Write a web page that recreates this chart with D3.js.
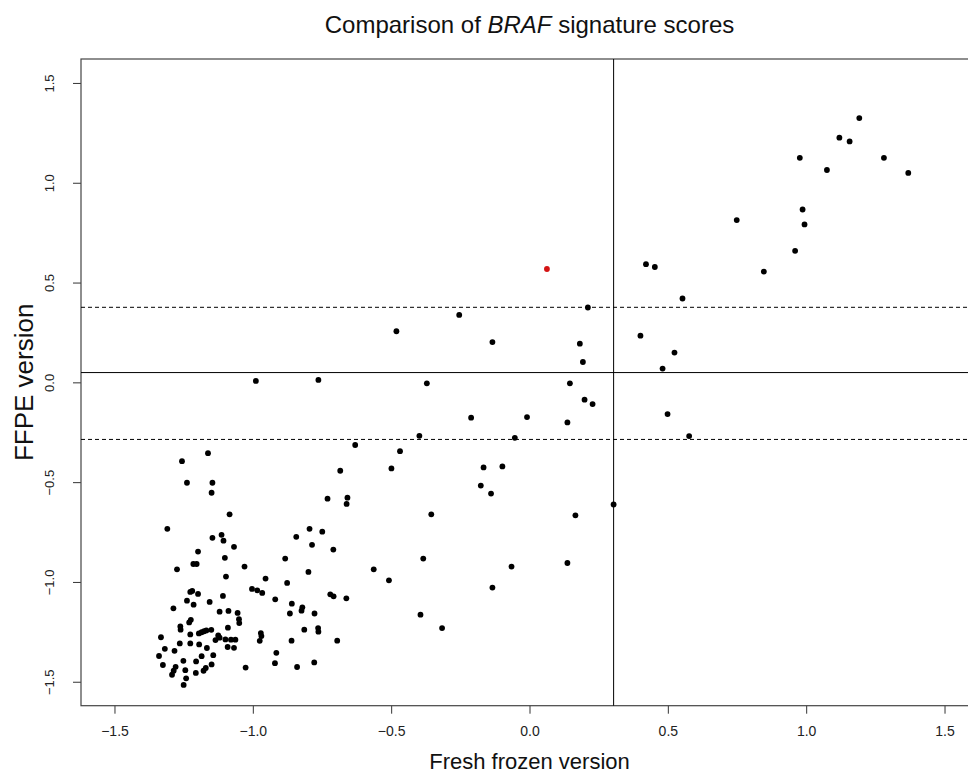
<!DOCTYPE html>
<html>
<head>
<meta charset="utf-8">
<script src="https://cdn.jsdelivr.net/npm/d3@7/dist/d3.min.js"></script>
<style>
  html, body { margin: 0; padding: 0; background: #fff; }
  svg { display: block; font-family: "Liberation Sans", Arial, sans-serif; }
</style>
</head>
<body>
<svg id="chart" width="968" height="776"></svg>
<script>
// ---- Data ----
const freshFrozen = [
  0.421, 0.453, 0.211, -0.254, -0.481, -0.134, 0.182, 0.193, 0.401, 0.553,
  0.524, 0.481, 0.749, 0.847, 0.960, 0.987, 0.994, 0.977, 1.075, 1.120,
  1.157, 1.192, 1.281, 1.369, 0.499, 0.577,
  -0.371, 0.146, 0.199, 0.228, 0.137, -0.211, -0.009, -0.398, -0.053, -0.630,
  -0.468, -0.499, -0.166, -0.098, -0.176, -0.139, 0.304, -0.355, 0.166, -0.384,
  -0.563, -0.508, -0.065, 0.137, -0.134, -0.394, -0.316,
  -0.989, -0.763, -1.162, -1.256, -1.238, -1.146, -1.149, -0.684, -0.730, -0.658,
  -0.661, -1.084, -1.309, -1.146, -1.113, -1.106, -1.068, -1.198, -1.101, -1.215,
  -1.203, -1.030, -1.274, -1.097, -0.795, -0.749, -0.843, -0.786, -0.709, -0.883,
  -0.799, -0.954, -0.876, -1.003, -0.984, -0.966, -0.919, -0.720, -0.708, -0.662,
  -0.859, -0.866, -0.821, -0.824, -0.777, -0.814, -0.764, -0.763, -0.860, -0.695,
  -0.915, -0.920, -0.840, -0.778, -0.971, -0.969, -0.975, -1.026,
  -1.287, -1.238, -1.214, -1.226, -1.219, -1.198, -1.156, -1.108, -1.120, -1.088,
  -1.055, -1.050, -1.049, -1.230, -1.224, -1.262, -1.261, -1.332, -1.318, -1.339,
  -1.325, -1.283, -1.264, -1.226, -1.226, -1.195, -1.185, -1.176, -1.168, -1.150,
  -1.194, -1.166, -1.125, -1.120, -1.135, -1.090, -1.099, -1.079, -1.063, -1.091,
  -1.068, -1.143, -1.185, -1.205, -1.251, -1.279, -1.286, -1.292, -1.244, -1.241,
  -1.250, -1.206, -1.178, -1.170, -1.149
];
const ffpe = [
  0.592, 0.578, 0.375, 0.338, 0.256, 0.202, 0.194, 0.102, 0.234, 0.420,
  0.149, 0.069, 0.813, 0.555, 0.659, 0.866, 0.791, 1.125, 1.064, 1.226,
  1.207, 1.324, 1.125, 1.049, -0.159, -0.269,
  -0.005, -0.005, -0.087, -0.109, -0.201, -0.177, -0.174, -0.268, -0.278, -0.314,
  -0.345, -0.431, -0.426, -0.421, -0.517, -0.557, -0.612, -0.661, -0.666, -0.883,
  -0.937, -0.992, -0.923, -0.905, -1.028, -1.164, -1.231,
  0.007, 0.012, -0.355, -0.395, -0.503, -0.503, -0.553, -0.443, -0.583, -0.578,
  -0.609, -0.661, -0.734, -0.779, -0.764, -0.793, -0.824, -0.848, -0.879, -0.910,
  -0.910, -0.923, -0.937, -0.973, -0.734, -0.748, -0.774, -0.814, -0.838, -0.883,
  -0.950, -0.983, -1.005, -1.035, -1.042, -1.055, -1.087, -1.062, -1.072, -1.082,
  -1.109, -1.158, -1.127, -1.144, -1.158, -1.239, -1.231, -1.249, -1.294, -1.294,
  -1.355, -1.407, -1.426, -1.403, -1.256, -1.271, -1.295, -1.429,
  -1.132, -1.094, -1.114, -1.050, -1.045, -1.060, -1.100, -1.070, -1.149, -1.145,
  -1.155, -1.187, -1.206, -1.203, -1.190, -1.223, -1.239, -1.277, -1.335, -1.371,
  -1.416, -1.345, -1.308, -1.263, -1.308, -1.258, -1.252, -1.247, -1.243, -1.240,
  -1.313, -1.331, -1.268, -1.279, -1.291, -1.229, -1.288, -1.289, -1.289, -1.326,
  -1.330, -1.367, -1.372, -1.398, -1.395, -1.425, -1.445, -1.465, -1.442, -1.483,
  -1.516, -1.456, -1.445, -1.431, -1.413
];
const highlightFreshFrozen = [0.063];
const highlightFfpe = [0.568];
const solidHLines = [0.049];
const dashedHLines = [0.376, -0.286];
const solidVLines = [0.304];
const xTicks = [-1.5, -1.0, -0.5, 0.0, 0.5, 1.0, 1.5];
const yTicks = [-1.5, -1.0, -0.5, 0.0, 0.5, 1.0, 1.5];
const xTickLabels = ["\u22121.5", "\u22121.0", "\u22120.5", "0.0", "0.5", "1.0", "1.5"];
const yTickLabels = ["\u22121.5", "\u22121.0", "\u22120.5", "0.0", "0.5", "1.0", "1.5"];

// ---- Layout ----
const plot = { left: 81, right: 978, top: 59, bottom: 705.7 };
const svg = d3.select("#chart");

const x = d3.scaleLinear().domain([-1.621, 1.621]).range([plot.left, plot.right]);
const y = d3.scaleLinear().domain([-1.62, 1.62]).range([plot.bottom, plot.top]);

// Axes
const xAxis = d3.axisBottom(x).tickValues(xTicks).tickSize(8).tickPadding(12)
  .tickFormat((d, i) => xTickLabels[i]);
const gx = svg.append("g").attr("transform", `translate(0,${plot.bottom})`).call(xAxis);
gx.select(".domain").remove();
gx.selectAll("line").attr("stroke", "#333");
gx.selectAll("text").attr("font-size", 14).attr("fill", "#222")
  .attr("font-family", "Liberation Sans, Arial, sans-serif");

const yAxis = d3.axisLeft(y).tickValues(yTicks).tickSize(8).tickPadding(0)
  .tickFormat((d, i) => yTickLabels[i]);
const gy = svg.append("g").attr("transform", `translate(${plot.left},0)`).call(yAxis);
gy.select(".domain").remove();
gy.selectAll("line").attr("stroke", "#333");
gy.selectAll("text")
  .attr("font-size", 13).attr("fill", "#222")
  .attr("font-family", "Liberation Sans, Arial, sans-serif")
  .attr("text-anchor", "middle")
  .attr("dy", null)
  .attr("x", null)
  .attr("transform", `translate(-27,0) rotate(-90)`)
  .attr("y", 0);

// Box
svg.append("rect")
  .attr("x", plot.left).attr("y", plot.top)
  .attr("width", plot.right - plot.left).attr("height", plot.bottom - plot.top)
  .attr("fill", "none").attr("stroke", "#444").attr("stroke-width", 1.2);

// Reference lines
svg.selectAll(".hsolid").data(solidHLines).enter().append("line")
  .attr("x1", plot.left).attr("x2", plot.right)
  .attr("y1", d => y(d)).attr("y2", d => y(d))
  .attr("stroke", "#000").attr("stroke-width", 1);
svg.selectAll(".hdash").data(dashedHLines).enter().append("line")
  .attr("x1", plot.left).attr("x2", plot.right)
  .attr("y1", d => y(d)).attr("y2", d => y(d))
  .attr("stroke", "#000").attr("stroke-width", 1).attr("stroke-dasharray", "4,3");
svg.selectAll(".vsolid").data(solidVLines).enter().append("line")
  .attr("y1", plot.top).attr("y2", plot.bottom)
  .attr("x1", d => x(d)).attr("x2", d => x(d))
  .attr("stroke", "#000").attr("stroke-width", 1);

// Points
const pts = freshFrozen.map((v, i) => ({ fx: v, fy: ffpe[i] }));
svg.append("g").selectAll("circle").data(pts).enter().append("circle")
  .attr("cx", d => x(d.fx)).attr("cy", d => y(d.fy)).attr("r", 2.9).attr("fill", "#000");
const hp = highlightFreshFrozen.map((v, i) => ({ fx: v, fy: highlightFfpe[i] }));
svg.append("g").selectAll("circle").data(hp).enter().append("circle")
  .attr("cx", d => x(d.fx)).attr("cy", d => y(d.fy)).attr("r", 2.9).attr("fill", "#d41414");

// Titles
const title = svg.append("text")
  .attr("x", (plot.left + plot.right) / 2).attr("y", 33)
  .attr("text-anchor", "middle").attr("font-size", 24).attr("fill", "#111");
title.append("tspan").text("Comparison of ");
title.append("tspan").attr("font-style", "italic").text("BRAF");
title.append("tspan").text(" signature scores");

svg.append("text")
  .attr("x", (plot.left + plot.right) / 2).attr("y", 769)
  .attr("text-anchor", "middle").attr("font-size", 22).attr("fill", "#111")
  .text("Fresh frozen version");

svg.append("text")
  .attr("transform", `translate(33,${(plot.top + plot.bottom) / 2}) rotate(-90)`)
  .attr("text-anchor", "middle").attr("font-size", 26).attr("fill", "#111")
  .text("FFPE version");
</script>
</body>
</html>
